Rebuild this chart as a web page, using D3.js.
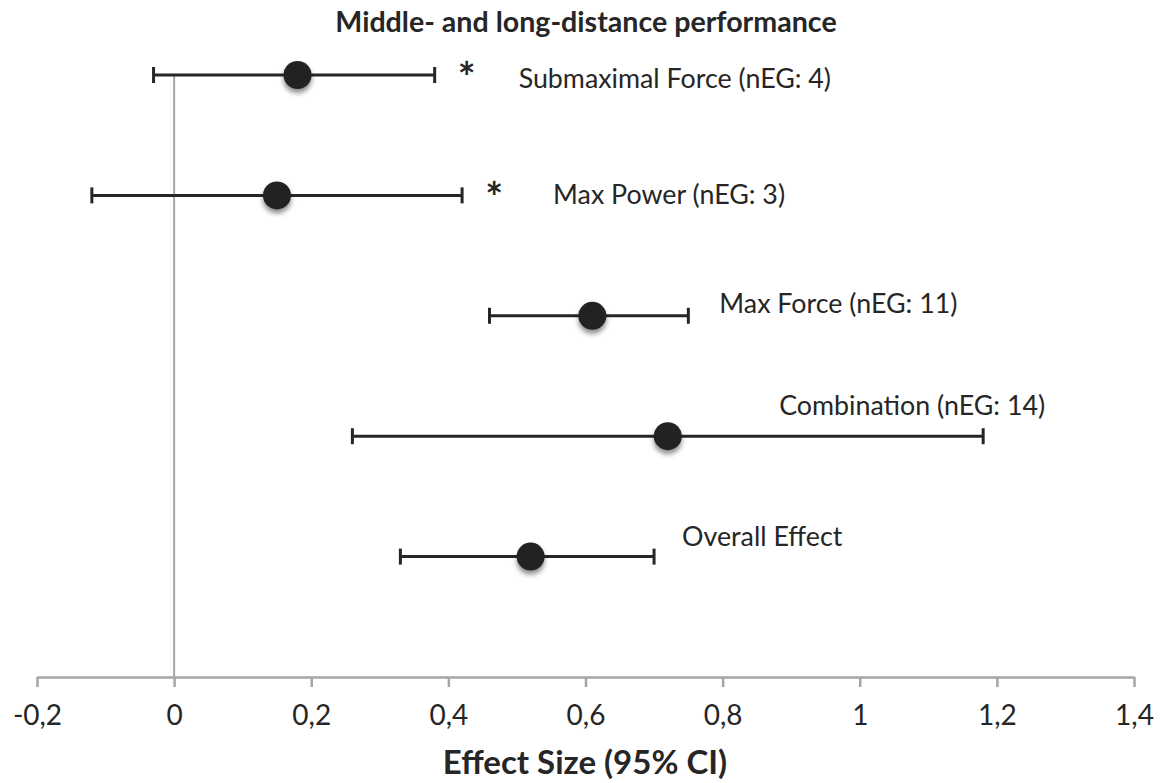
<!DOCTYPE html>
<html>
<head>
<meta charset="utf-8">
<script src="https://cdn.jsdelivr.net/npm/d3@7"></script>
<style>
  body { margin: 0; background: #fff; }
  text { font-family: Lato, "Open Sans", sans-serif; fill: #262626; }
</style>
</head>
<body>
<svg id="chart" width="1163" height="783"></svg>
<script>
// forest plot values
const groups = ["Submaximal Force (nEG: 4)", "Max Power (nEG: 3)", "Max Force (nEG: 11)", "Combination (nEG: 14)", "Overall Effect"];
const rows = [5, 4, 3, 2, 1];
const effect = [0.18, 0.15, 0.61, 0.72, 0.52];
const ciLow = [-0.03, -0.12, 0.46, 0.26, 0.33];
const ciHigh = [0.38, 0.42, 0.75, 1.18, 0.70];
const significant = [true, true, false, false, false];
const xTicks = [-0.2, 0, 0.2, 0.4, 0.6, 0.8, 1, 1.2, 1.4];

const svg = d3.select("#chart");

const x = d3.scaleLinear().domain([-0.2, 1.4]).range([37, 1134]);
const y = d3.scaleLinear().domain([0, 5]).range([677, 75]);

// label placement, relative to the point (dx from the upper CI, dy from the row)
const labelPos = [
    {dx: 84, dy: 13},
    {dx: 91, dy: 9},
    {dx: 31, dy: -3},
    {dx: -204, dy: -21},
    {dx: 28, dy: -11}
];

const defs = svg.append("defs");
const shadow = defs.append("filter").attr("id", "shadow")
    .attr("x", "-50%").attr("y", "-50%").attr("width", "200%").attr("height", "200%");
shadow.append("feDropShadow")
    .attr("dx", 0).attr("dy", 4)
    .attr("stdDeviation", 2.5)
    .attr("flood-color", "#000")
    .attr("flood-opacity", 0.45);

// vertical zero line
svg.append("line")
    .attr("x1", x(0)).attr("x2", x(0))
    .attr("y1", y(5)).attr("y2", y(0))
    .attr("stroke", "#a6a6a6")
    .attr("stroke-width", 2);

// x axis
const axis = svg.append("g")
    .attr("transform", `translate(0,${y(0)})`)
    .call(d3.axisBottom(x)
        .tickValues(xTicks)
        .tickSize(10)
        .tickSizeOuter(0)
        .tickPadding(18)
        .tickFormat(d => String(d).replace(".", ",")));
axis.select(".domain").attr("stroke", "#a6a6a6").attr("stroke-width", 2.5);
axis.selectAll(".tick line").attr("stroke", "#a6a6a6").attr("stroke-width", 2.5);
axis.selectAll(".tick text")
    .style("font-family", "Lato, 'Open Sans', sans-serif")
    .style("font-size", "28px")
    .attr("fill", "#262626");

const idx = d3.range(groups.length);

// error bars
const bars = svg.append("g").attr("stroke", "#262626").attr("stroke-width", 3);
bars.selectAll(".ci").data(idx).enter().append("line")
    .attr("x1", i => x(ciLow[i])).attr("x2", i => x(ciHigh[i]))
    .attr("y1", i => y(rows[i])).attr("y2", i => y(rows[i]));
bars.selectAll(".capL").data(idx).enter().append("line")
    .attr("x1", i => x(ciLow[i])).attr("x2", i => x(ciLow[i]))
    .attr("y1", i => y(rows[i]) - 8).attr("y2", i => y(rows[i]) + 8);
bars.selectAll(".capR").data(idx).enter().append("line")
    .attr("x1", i => x(ciHigh[i])).attr("x2", i => x(ciHigh[i]))
    .attr("y1", i => y(rows[i]) - 8).attr("y2", i => y(rows[i]) + 8);

// points
svg.selectAll(".dot").data(idx).enter().append("circle")
    .attr("cx", i => x(effect[i]))
    .attr("cy", i => y(rows[i]))
    .attr("r", 14)
    .attr("fill", "#222")
    .attr("filter", "url(#shadow)");

// stars
svg.selectAll(".star").data(idx.filter(i => significant[i])).enter().append("text")
    .attr("x", i => x(ciHigh[i]) + 32)
    .attr("y", i => y(rows[i]) + 18)
    .attr("text-anchor", "middle")
    .style("font-size", "42px")
    .style("font-weight", "bold")
    .text("*");

// labels
svg.selectAll(".label").data(idx).enter().append("text")
    .attr("x", i => x(ciHigh[i]) + labelPos[i].dx)
    .attr("y", i => y(rows[i]) + labelPos[i].dy)
    .style("font-size", "26.8px")
    .text(i => groups[i]);

// titles
svg.append("text")
    .attr("x", 586).attr("y", 32)
    .attr("text-anchor", "middle")
    .style("font-size", "28.6px")
    .style("font-weight", "bold")
    .text("Middle- and long-distance performance");

svg.append("text")
    .attr("x", 585).attr("y", 774)
    .attr("text-anchor", "middle")
    .style("font-size", "33px")
    .style("font-weight", "bold")
    .text("Effect Size (95% CI)");
</script>
</body>
</html>
